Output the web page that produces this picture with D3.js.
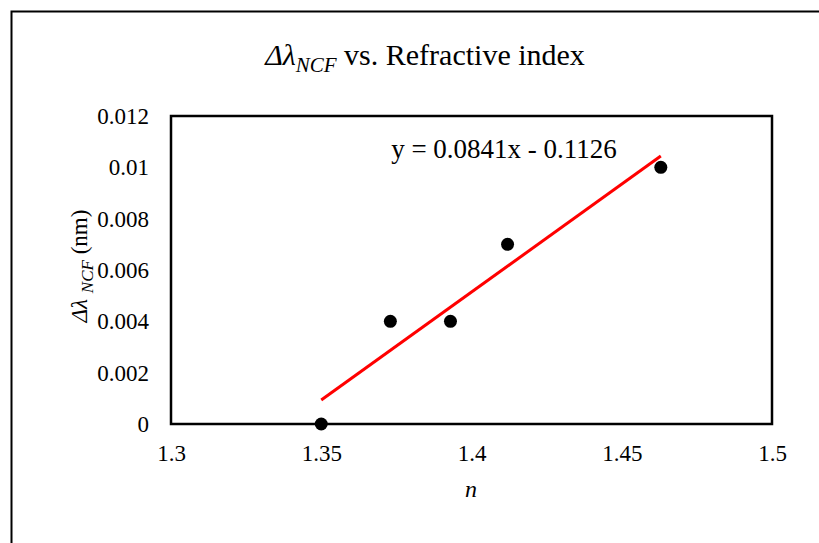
<!DOCTYPE html>
<html>
<head>
<meta charset="utf-8">
<script src="https://cdn.jsdelivr.net/npm/d3@7"></script>
<style>
  body { margin: 0; background: #fff; }
  text { font-family: "Liberation Serif", "Times New Roman", serif; fill: #000; }
</style>
</head>
<body>
<script>
// data
var nValues = [1.35, 1.373, 1.393, 1.412, 1.463];
var shiftValues = [0, 0.004, 0.004, 0.007, 0.01];
var xTicks = [1.3, 1.35, 1.4, 1.45, 1.5];
var yTicks = [0, 0.002, 0.004, 0.006, 0.008, 0.01, 0.012];
var fitSlope = 0.0841;
var fitIntercept = -0.1126;

var width = 819, height = 543;
var plot = { left: 171, top: 116, right: 772, bottom: 424 };

var svg = d3.select("body").append("svg")
    .attr("width", width)
    .attr("height", height);

svg.append("rect").attr("width", width).attr("height", height).attr("fill", "#fff");

// outer chart border (runs off the right and bottom edges)
svg.append("rect")
    .attr("x", 11.5).attr("y", 11.5)
    .attr("width", width).attr("height", height)
    .attr("fill", "none").attr("stroke", "#000").attr("stroke-width", 2);

var x = d3.scaleLinear().domain([1.3, 1.5]).range([plot.left, plot.right]);
var y = d3.scaleLinear().domain([0, 0.012]).range([plot.bottom, plot.top]);

// plot area frame
svg.append("rect")
    .attr("x", plot.left).attr("y", plot.top)
    .attr("width", plot.right - plot.left).attr("height", plot.bottom - plot.top)
    .attr("fill", "none").attr("stroke", "#000").attr("stroke-width", 2.5);

// axes: labels only, no tick marks
var xAxis = svg.append("g")
    .attr("transform", "translate(0," + plot.bottom + ")")
    .call(d3.axisBottom(x).tickValues(xTicks).tickSize(0).tickPadding(21).tickFormat(d3.format("")));
var yAxis = svg.append("g")
    .attr("transform", "translate(" + plot.left + ",0)")
    .call(d3.axisLeft(y).tickValues(yTicks).tickSize(0).tickPadding(22).tickFormat(d3.format("")));
[xAxis, yAxis].forEach(function (g) {
    g.select(".domain").remove();
    g.attr("font-size", null).attr("font-family", null);
    g.selectAll("text")
        .style("font-family", "Liberation Serif, Times New Roman, serif")
        .style("font-size", "23px")
        .attr("fill", "#000");
});

// trend line over the data range
svg.append("line")
    .attr("x1", x(d3.min(nValues))).attr("y1", y(fitSlope * d3.min(nValues) + fitIntercept))
    .attr("x2", x(d3.max(nValues))).attr("y2", y(fitSlope * d3.max(nValues) + fitIntercept))
    .attr("stroke", "#ff0000").attr("stroke-width", 3);

// data points
svg.append("g").selectAll("circle")
    .data(nValues)
    .enter().append("circle")
    .attr("cx", d => x(d))
    .attr("cy", (d, i) => y(shiftValues[i]))
    .attr("r", 6.5)
    .attr("fill", "#000");

// trend equation
svg.append("text")
    .attr("x", 504).attr("y", 158)
    .attr("text-anchor", "middle")
    .style("font-size", "27px")
    .text("y = " + fitSlope + "x - " + Math.abs(fitIntercept));

// title
var title = svg.append("text")
    .attr("x", 425).attr("y", 65)
    .attr("text-anchor", "middle")
    .style("font-size", "30px");
title.append("tspan").attr("font-style", "italic").text("Δλ");
title.append("tspan").attr("font-style", "italic").style("font-size", "21px").attr("dy", 7).text("NCF");
title.append("tspan").attr("dy", -7).text(" vs. Refractive index");

// x axis title
svg.append("text")
    .attr("x", 471).attr("y", 497)
    .attr("text-anchor", "middle")
    .style("font-size", "24px")
    .attr("font-style", "italic")
    .text("n");

// y axis title
var yTitle = svg.append("text")
    .attr("transform", "translate(87,266) rotate(-90)")
    .attr("text-anchor", "middle")
    .style("font-size", "23px");
yTitle.append("tspan").attr("font-style", "italic").text("Δλ ");
yTitle.append("tspan").attr("font-style", "italic").style("font-size", "17px").attr("dy", 6).text("NCF");
yTitle.append("tspan").attr("dy", -6).text(" (nm)");
</script>
</body>
</html>
